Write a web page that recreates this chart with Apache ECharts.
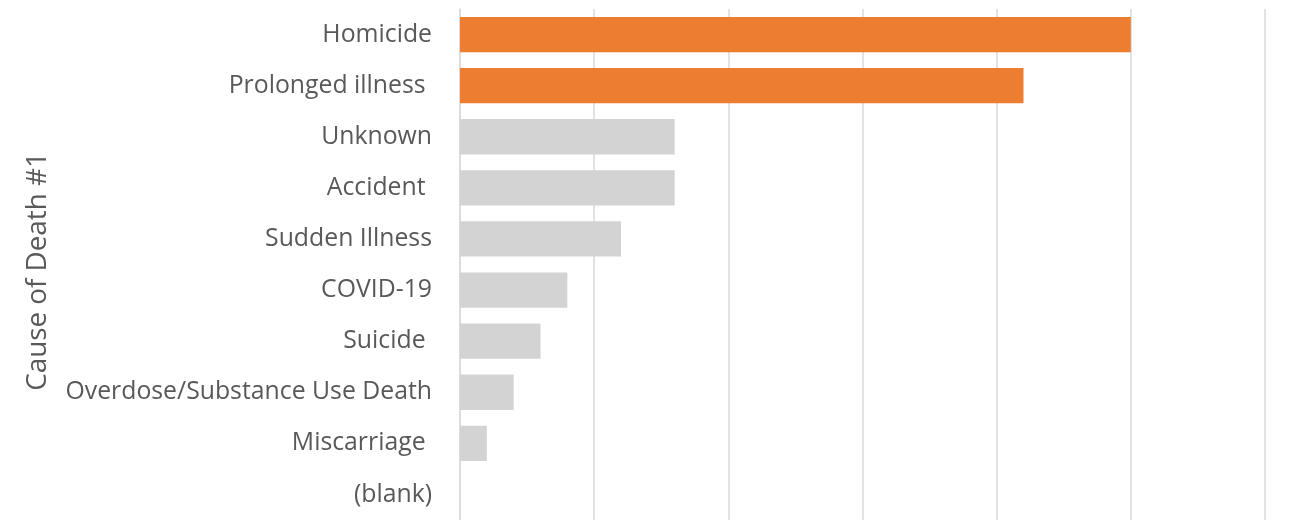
<!DOCTYPE html>
<html><head><meta charset="utf-8">
<script src="https://cdn.jsdelivr.net/npm/echarts@6/dist/echarts.min.js"></script>
<style>html,body{margin:0;padding:0;background:#fff}#c{width:1295px;height:520px}</style>
</head><body><div id="c"></div>
<script>
const categories = ["Homicide", "Prolonged illness ", "Unknown", "Accident ", "Sudden Illness", "COVID-19", "Suicide ", "Overdose/Substance Use Death", "Miscarriage ", "(blank)"];
const counts = [25, 21, 8, 8, 6, 4, 3, 2, 1, 0];
const highlighted = [true, true, false, false, false, false, false, false, false, false];
const axisTitle = "Cause of Death #1";

const chart = echarts.init(document.getElementById('c'), null, {renderer: 'canvas'});
chart.setOption({
  animation: false,
  backgroundColor: '#ffffff',
  grid: {left: 460, top: 9, width: 805, height: 520, containLabel: false},
  xAxis: {
    type: 'value', min: 0, max: 30, interval: 5,
    axisLabel: {show: false}, axisTick: {show: false}, axisLine: {show: false},
    splitLine: {show: true, lineStyle: {color: '#d9d9d9', width: 1.5}}
  },
  yAxis: {
    type: 'category', data: categories, inverse: true,
    name: axisTitle, nameLocation: 'middle', nameGap: 408, nameRotate: 90,
    nameTextStyle: {fontFamily: 'Open Sans', fontSize: 27.8, color: '#595959', padding: [0, 14, 0, 0]},
    axisLine: {show: true, lineStyle: {color: '#d9d9d9', width: 1.5}},
    axisTick: {show: false},
    axisLabel: {fontFamily: 'Open Sans', fontSize: 24.8, color: '#595959', margin: 28}
  },
  series: [{
    type: 'bar',
    data: counts.map((v, i) => ({value: v, itemStyle: {color: highlighted[i] ? '#ed7d31' : '#d3d3d3'}})),
    barCategoryGap: '31%'
  }]
});
</script></body></html>
